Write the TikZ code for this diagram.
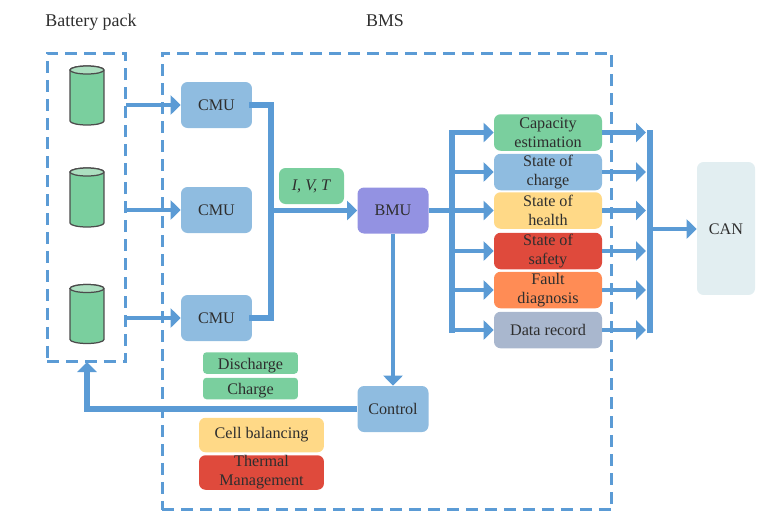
\documentclass[tikz,border=0pt]{standalone}
\usepackage{fontspec}
\setmainfont{Liberation Serif}
\usetikzlibrary{arrows.meta}
\definecolor{flowblue}{HTML}{5B9BD5}
\definecolor{boxblue}{HTML}{8FBCE0}
\definecolor{boxgreen}{HTML}{7ACF9E}
\definecolor{boxpurple}{HTML}{9392E2}
\definecolor{boxyellow}{HTML}{FFD987}
\definecolor{boxred}{HTML}{DF4A3C}
\definecolor{boxorange}{HTML}{FF8C55}
\definecolor{boxgrey}{HTML}{A9B7CE}
\definecolor{boxpale}{HTML}{E2EEF1}
\definecolor{celltop}{HTML}{ACDFC0}
\definecolor{txt}{HTML}{2E2E2E}
\tikzset{>/.tip={Triangle[length=0.2cm,width=0.38cm]},
  box/.style={rounded corners=0.13cm,text=txt,align=center,inner sep=0pt,
    font=\fontsize{9.2}{10.8}\selectfont},
  unit/.style={box,minimum width=1.42cm,minimum height=0.92cm,fill=boxblue},
  task/.style={box,minimum width=2.16cm,minimum height=0.73cm},
  mode/.style={box,rounded corners=0.07cm,fill=boxgreen,minimum width=1.9cm,minimum height=0.43cm,
    text height=0.24cm,text depth=0pt},
  action/.style={box,minimum width=2.5cm,minimum height=0.69cm},
  title/.style={text=txt,inner sep=0pt,font=\fontsize{10.2}{12}\selectfont},
  cell/.style={minimum width=0.68cm,minimum height=1.18cm,inner sep=0pt,outer sep=0pt},
  cellline/.style={draw=black!70,line width=0.025cm},
  frame/.style={draw=flowblue,line width=0.06cm,dash pattern=on 0.24cm off 0.14cm},
  flow/.style={draw=flowblue,line width=0.09cm},
  bus/.style={draw=flowblue,line width=0.12cm,line cap=rect}}
\newcommand{\drawcell}[1]{%
  \draw[cellline,fill=boxgreen] ([yshift=-0.08cm]#1.north west) -- ([yshift=0.08cm]#1.south west)
    arc[start angle=180,end angle=360,x radius=0.34cm,y radius=0.08cm]
    -- ([yshift=-0.08cm]#1.north east) arc[start angle=0,end angle=180,x radius=0.34cm,y radius=0.08cm] -- cycle;
  \draw[cellline,fill=celltop] ([yshift=-0.08cm]#1.north east)
    arc[start angle=0,end angle=360,x radius=0.34cm,y radius=0.08cm];}
\begin{document}
\begin{tikzpicture}[x=0.02cm,y=-0.02cm]
\useasboundingbox (0,0) rectangle (776,518);

\node[title] (pack-title) at (91,22) {Battery pack};
\node[title] (bms-title) at (385,21) {BMS};

\node[frame,minimum width=1.58cm,minimum height=6.18cm] (pack) at (86.5,207.5) {};
\node[frame,minimum width=9cm,minimum height=9.14cm] (bms) at (387,281.5) {};

\node[cell] (cell1) at (87,95.5) {};
\node[cell] (cell2) at (87,197.5) {};
\node[cell] (cell3) at (87,314) {};
\drawcell{cell1}
\drawcell{cell2}
\drawcell{cell3}

\node[unit] (CMU1) at (216.5,105) {CMU};
\node[unit] (CMU2) at (216.5,210) {CMU};
\node[unit] (CMU3) at (216.5,318) {CMU};
\node[box,fill=boxgreen,minimum width=1.3cm,minimum height=0.72cm] (IVT) at (311.5,186) {\textit{I, V, T}};
\node[unit,fill=boxpurple] (BMU) at (393,210.5) {BMU};
\node[unit] (Control) at (393,409) {Control};

\node[mode] (Discharge) at (250.5,363) {Discharge};
\node[mode] (Charge) at (250.5,388.5) {Charge};
\node[action,fill=boxyellow] (Balancing) at (261.5,435) {Cell balancing};
\node[action,fill=boxred] (Thermal) at (261.5,472.5) {Thermal\\Management};

\node[task,fill=boxgreen] (Capacity) at (548,132.5) {Capacity\\estimation};
\node[task,fill=boxblue] (SOC) at (548,172) {State of\\charge};
\node[task,fill=boxyellow] (SOH) at (548,210.5) {State of\\health};
\node[task,fill=boxred] (SOS) at (548,251) {State of\\safety};
\node[task,fill=boxorange] (Fault) at (548,290) {Fault\\diagnosis};
\node[task,fill=boxgrey] (Record) at (548,330) {Data record};
\node[box,fill=boxpale,minimum width=1.16cm,minimum height=2.66cm,text height=0.24cm,text depth=0pt] (CAN) at (726,228.5) {CAN};

\coordinate (out1) at (126,105);
\coordinate (out2) at (126,210);
\coordinate (out3) at (126,318);
\coordinate (cmu-top) at (270.5,105);
\coordinate (cmu-mid) at (270.5,210.5);
\coordinate (cmu-bot) at (270.5,318);
\coordinate (split-top) at (452,132.5);
\coordinate (split-soc) at (452,172);
\coordinate (split-soh) at (452,210.5);
\coordinate (split-sos) at (452,251);
\coordinate (split-fault) at (452,290);
\coordinate (split-bot) at (452,330);
\coordinate (join1) at (646,132.5);
\coordinate (join2) at (646,172);
\coordinate (join3) at (646,210.5);
\coordinate (join4) at (646,251);
\coordinate (join5) at (646,290);
\coordinate (join6) at (646,330);
\coordinate (join-top) at (649.5,132.5);
\coordinate (join-bot) at (649.5,330);
\coordinate (join-can) at (649.5,229);
\coordinate (pack-in) at (87,362);

\path[->] (out1) edge[flow] (CMU1);
\path[->] (out2) edge[flow] (CMU2);
\path[->] (out3) edge[flow] (CMU3);
\draw[bus] (CMU1.east) -- (cmu-top) -- (cmu-bot) -- (CMU3.east);
\path[->] (cmu-mid) edge[flow] (BMU);

\draw[bus] (split-top) -- (split-bot);
\draw[flow] (BMU) -- (split-soh);
\path[->] (split-top) edge[flow] (Capacity);
\path[->] (split-soc) edge[flow] (SOC);
\path[->] (split-soh) edge[flow] (SOH);
\path[->] (split-sos) edge[flow] (SOS);
\path[->] (split-fault) edge[flow] (Fault);
\path[->] (split-bot) edge[flow] (Record);

\path[->] (Capacity) edge[flow] (join1);
\path[->] (SOC) edge[flow] (join2);
\path[->] (SOH) edge[flow] (join3);
\path[->] (SOS) edge[flow] (join4);
\path[->] (Fault) edge[flow] (join5);
\path[->] (Record) edge[flow] (join6);
\draw[bus] (join-top) -- (join-bot);
\path[->] (join-can) edge[flow] (CAN.west |- join-can);

\path[->] (BMU) edge[flow] (Control);
\draw[->,flow,line width=0.12cm] (Control.west) -| (pack-in);
\end{tikzpicture}
\end{document}
